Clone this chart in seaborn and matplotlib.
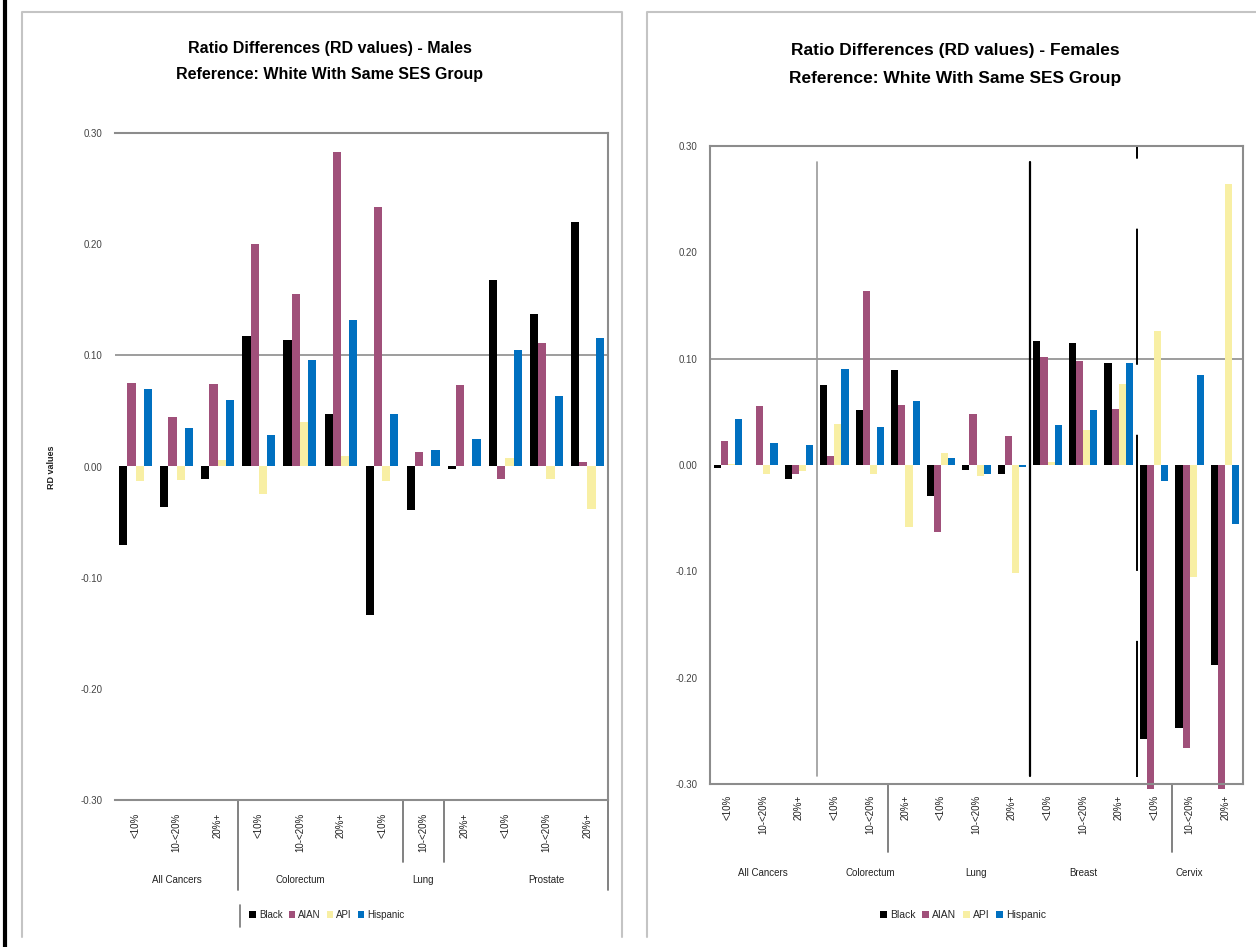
import numpy as np
import pandas as pd
import matplotlib
matplotlib.use("Agg")
import matplotlib.pyplot as plt
import matplotlib.transforms as mtransforms
from matplotlib.lines import Line2D
from matplotlib.patches import Patch
import seaborn as sns

# ---- data -------------------------------------------------------------
ses_levels = ["<10%", "10-<20%", "20%+"]
races = ["Black", "AIAN", "API", "Hispanic"]
race_colors = ["#000000", "#A0507A", "#F8EFA4", "#0070C0"]

male_sites = ["All Cancers", "Colorectum", "Lung", "Prostate"]
male_black = [-0.071, -0.036, -0.0115, 0.117, 0.114, 0.047, -0.134, -0.0387, -0.002, 0.168, 0.137, 0.220]
male_aian = [0.0754, 0.0446, 0.074, 0.200, 0.155, 0.283, 0.233, 0.013, 0.073, -0.0115, 0.111, 0.004]
male_api = [-0.0127, -0.012, 0.006, -0.025, 0.040, 0.009, -0.013, 0.0, 0.0, 0.008, -0.0115, -0.038]
male_hispanic = [0.0695, 0.035, 0.060, 0.028, 0.096, 0.132, 0.047, 0.015, 0.0246, 0.105, 0.063, 0.116]

female_sites = ["All Cancers", "Colorectum", "Lung", "Breast", "Cervix"]
female_black = [-0.0025, 0.0, -0.013, 0.075, 0.0515, 0.089, -0.029, -0.005, -0.008, 0.117, 0.115, 0.096, -0.2575, -0.247, -0.188]
female_aian = [0.0228, 0.0556, -0.008, 0.0084, 0.164, 0.056, -0.0633, 0.0484, 0.0275, 0.102, 0.098, 0.053, -0.305, -0.266, -0.305]
female_api = [0.001, -0.008, -0.006, 0.039, -0.0088, -0.058, 0.011, -0.0104, -0.102, 0.003, 0.033, 0.0766, 0.126, -0.1055, 0.2647]
female_hispanic = [0.0428, 0.0203, 0.0188, 0.0906, 0.0353, 0.060, 0.0063, -0.008, -0.002, 0.0375, 0.0516, 0.096, -0.015, 0.0844, -0.0554]

y_ticks = [0.30, 0.20, 0.10, 0.00, -0.10, -0.20, -0.30]


def long_form(sites, series):
    rows = []
    keys = []
    for si, site in enumerate(sites):
        for li, ses in enumerate(ses_levels):
            idx = si * len(ses_levels) + li
            key = f"{site}|{ses}"
            keys.append(key)
            for race, vals in zip(races, series):
                rows.append({"cat": key, "race": race, "value": vals[idx]})
    return pd.DataFrame(rows), keys


W, H = 1256, 947
sns.set_theme(style="white")
plt.rcParams["font.family"] = ["Liberation Sans", "DejaVu Sans"]

fig = plt.figure(figsize=(W / 100, H / 100), dpi=100)


def fx(px):
    return px / W


def fy(px):
    return 1 - px / H


def axes_rect(x0, y0, x1, y1):
    return [fx(x0), fy(y1), fx(x1) - fx(x0), fy(y0) - fy(y1)]


GRID = "#8c8c8c"

# panel frames
fig.add_artist(Line2D([fx(5), fx(5)], [0, 1], transform=fig.transFigure, color="black", lw=3))
fig.add_artist(Line2D([fx(22), fx(22), fx(622), fx(622)], [fy(937), fy(12), fy(12), fy(937)],
                      transform=fig.transFigure, color="#c4c4c4", lw=1.5))
fig.add_artist(Line2D([fx(647), fx(647), fx(1260)], [fy(937), fy(12), fy(12)],
                      transform=fig.transFigure, color="#c4c4c4", lw=1.5))


def draw_panel(rect, sites, series, title_lines, title_x, title_ys, title_size,
               label_pad, group_label_y, sep_bounds, sep_bottoms, legend_x, legend_size,
               left_spine):
    ax = fig.add_axes(rect)
    df, keys = long_form(sites, series)
    sns.barplot(data=df, x="cat", y="value", hue="race", order=keys, hue_order=races,
                palette=race_colors, saturation=1, width=0.8, errorbar=None,
                legend=False, ax=ax)
    for p in ax.patches:
        p.set_clip_on(False)
        p.set_linewidth(0)
    n = len(keys)
    ax.set_xlim(-0.5, n - 0.5)
    ax.set_ylim(-0.30, 0.30)
    ax.set_yticks(y_ticks)
    ax.set_yticklabels([f"{v:.2f}" for v in y_ticks], fontsize=7, color="#444444")
    ax.set_xticks(range(n))
    ax.set_xticklabels([k.split("|")[1] for k in keys], rotation=90, fontsize=7,
                       va="top", ha="center", color="#222222")
    ax.tick_params(axis="x", length=0, pad=label_pad)
    ax.tick_params(axis="y", length=0, pad=9)
    ax.set_xlabel("")
    ax.set_ylabel("")
    ax.axhline(0.10, color=GRID, lw=1.2, zorder=0)
    for side in ["top", "right", "bottom"]:
        ax.spines[side].set_color(GRID)
        ax.spines[side].set_linewidth(1.5)
    ax.spines["left"].set_visible(left_spine)
    ax.spines["left"].set_color(GRID)
    ax.spines["left"].set_linewidth(1.5)

    blend = mtransforms.blended_transform_factory(ax.transData, fig.transFigure)
    # cancer site labels under each SES triple
    for si, site in enumerate(sites):
        cx = si * len(ses_levels) + 1
        ax.text(cx, fy(group_label_y), site, transform=blend, ha="center", va="center",
                fontsize=7, color="#222222")
    # group dividers below the axis
    for b, bottom in zip(sep_bounds, sep_bottoms):
        ax.add_line(Line2D([b - 0.5, b - 0.5], [fy(rect_px_bottom(rect)), fy(bottom)],
                           transform=blend, color="#777777", lw=1.3, clip_on=False))

    for line, y in zip(title_lines, title_ys):
        fig.text(fx(title_x), fy(y), line, ha="center", va="center",
                 fontsize=title_size, fontweight="bold", color="black")

    handles = [Patch(facecolor=c, edgecolor="none") for c in race_colors]
    fig.legend(handles, races, loc="center", bbox_to_anchor=(fx(legend_x), fy(915)),
               ncol=4, frameon=False, fontsize=legend_size, handlelength=0.7,
               handleheight=0.7, columnspacing=0.6, handletextpad=0.3)
    return ax


def rect_px_bottom(rect):
    return (1 - rect[1]) * H


# males
ax_m = draw_panel(axes_rect(115, 133, 608, 800), male_sites,
                  [male_black, male_aian, male_api, male_hispanic],
                  ["Ratio Differences (RD values) - Males", "Reference: White With Same SES Group"],
                  330, [49, 74], 11.5, 9, 880, [3, 7, 8, 12], [890, 862, 862, 890], 327, 7, False)
fig.text(fx(52), fy(467), "RD values", rotation=90, ha="center", va="center",
         fontsize=6.5, fontweight="bold", color="#222222")
fig.add_artist(Line2D([fx(240), fx(240)], [fy(905), fy(927)], transform=fig.transFigure,
                      color="#777777", lw=1.2))

# females
ax_f = draw_panel(axes_rect(710, 146, 1243, 784), female_sites,
                  [female_black, female_aian, female_api, female_hispanic],
                  ["Ratio Differences (RD values) - Females", "Reference: White With Same SES Group"],
                  955, [50, 78], 12.5, 8, 873, [5, 13], [852, 852], 963, 7.5, True)

# stray divider strokes running up through the female plot area
blend_f = mtransforms.blended_transform_factory(ax_f.transData, fig.transFigure)
ax_f.add_line(Line2D([2.5, 2.5], [fy(776), fy(162)], transform=blend_f, color="#999999", lw=1.2))
ax_f.add_line(Line2D([8.5, 8.5], [fy(776), fy(162)], transform=blend_f, color="black", lw=1.6))
ax_f.add_line(Line2D([11.52, 11.52], [fy(777), fy(140)], transform=blend_f, color="black", lw=1.4,
                     linestyle=(0, (70, 36))))

fig.savefig("out.png", dpi=100)
